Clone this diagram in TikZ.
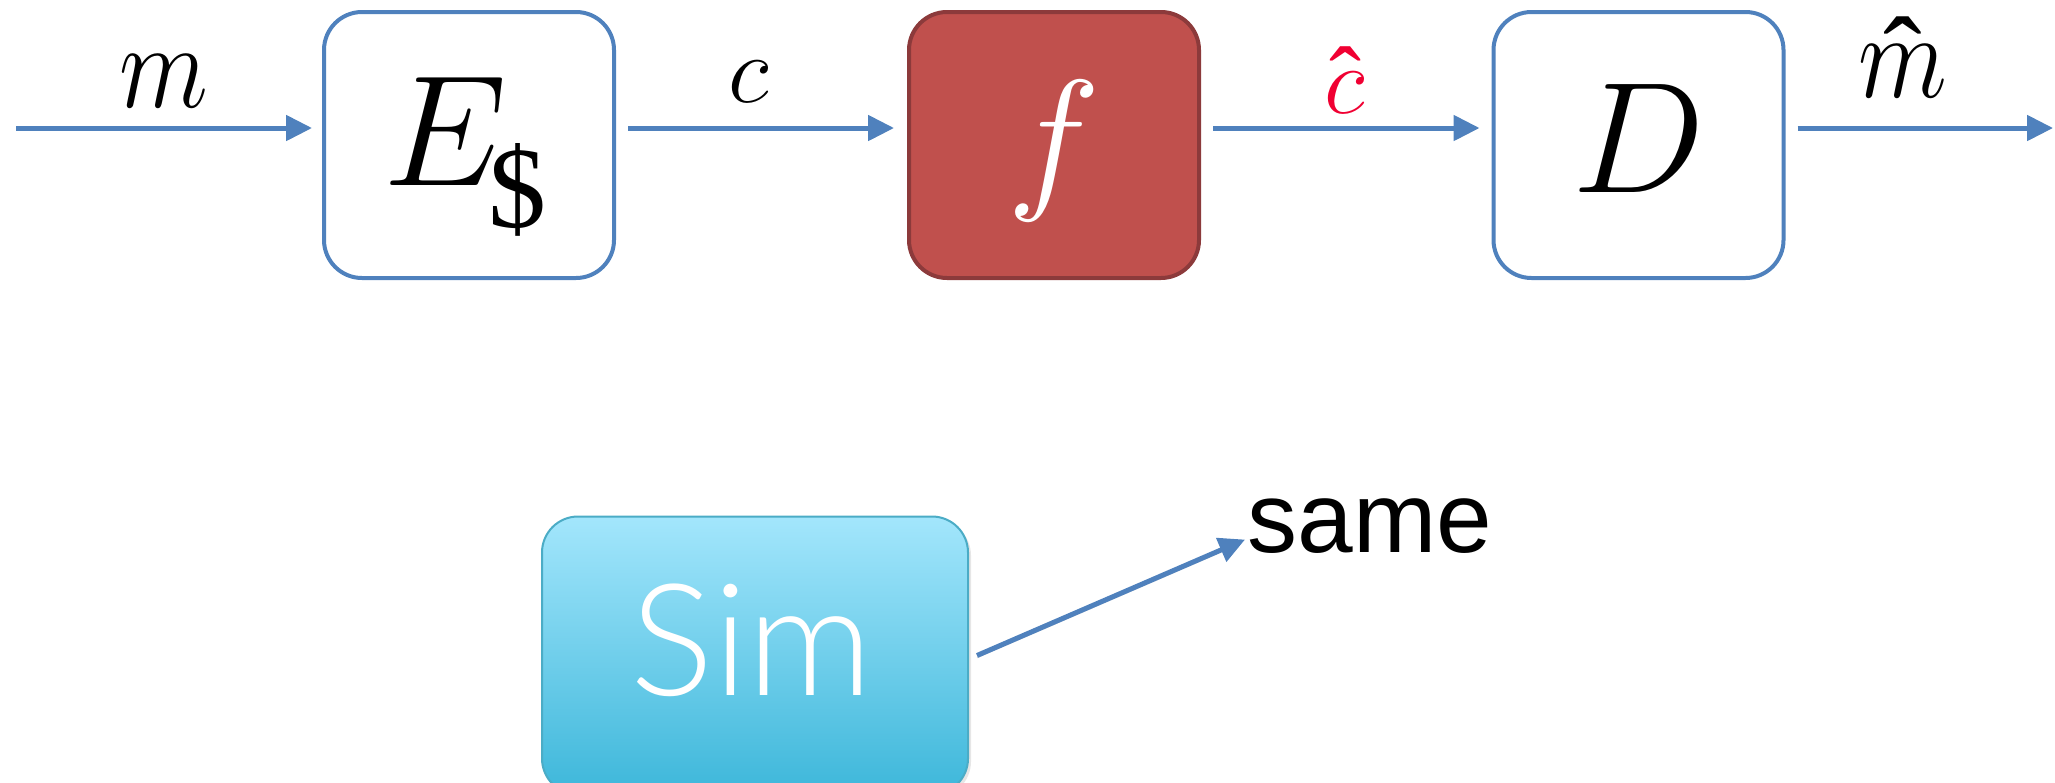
\RequirePackage{fix-cm}
\documentclass[tikz,border=0pt]{standalone}
\usepackage{fontspec}
\newfontfamily\samefont{Liberation Sans}
\newfontfamily\hatfont{Liberation Serif}
\newfontfamily\simfont{Lato Light}
\usetikzlibrary{arrows.meta,shadows}
\definecolor{ablue}{HTML}{4F81BD}
\definecolor{rfill}{HTML}{C0504D}
\definecolor{rdraw}{HTML}{8C3A3B}
\definecolor{hatred}{RGB}{240,0,50}
\definecolor{simtop}{HTML}{A3E6FC}
\definecolor{simbot}{HTML}{3DB7DA}
\definecolor{simdraw}{HTML}{4BACC6}
\newcommand\fsz[1]{\fontsize{#1}{#1}\selectfont}
% #1 base symbol, #2 raise of hat, #3 hat size
\newcommand\hatted[3]{{\ooalign{#1\cr\hidewidth\raisebox{#2}{\fsz{#3}\hatfont ˆ}\hidewidth\cr}}}
\begin{document}
\begin{tikzpicture}[x=0.5pt,y=-0.5pt,
  blockbox/.style={draw=ablue, line width=2pt, rounded corners=19pt, minimum width=145pt, minimum height=133pt, inner sep=0pt, fill=white},
  redbox/.style={blockbox, draw=rdraw, fill=rfill},
  simbox/.style={draw=simdraw, line width=1pt, rounded corners=18pt, minimum width=213pt, minimum height=139pt, top color=simtop, bottom color=simbot, inner sep=0pt, drop shadow={opacity=0.2, shadow xshift=1.5pt, shadow yshift=-1.5pt}},
  arr/.style={draw=ablue, line width=2.5pt, -{Triangle[length=13pt,width=12.5pt]},
    preaction={draw=black, opacity=0.12, transform canvas={yshift=-1.2pt}}},
  lbl/.style={inner sep=0pt, anchor=base},
  bigmath/.style={lbl, font=\fsz{79pt}},
  edgelbl/.style={lbl, font=\fsz{61pt}},
  clbl/.style={lbl, font=\fsz{48pt}},
]
\useasboundingbox (0,0) rectangle (2055,782);
\clip (0,0) rectangle (2055,782);

% blocks
\node[blockbox] (E) at (469,145) {};
\node[redbox]   (F) at (1054,145) {};
\node[blockbox] (D) at (1638.5,145) {};
\node[simbox]   (Sim) at (755,655.5) {};

% block texts
\node[bigmath] (Et) at ([xshift=-2pt,yshift=-20pt]E.center) {$E$\kern-9pt\raisebox{-21pt}{\fsz{58pt}\hatfont\$}};
\node[bigmath, text=white] (Ft) at ([yshift=-22.5pt]F.center) {$f$};
\node[bigmath] (Dt) at ([yshift=-23.5pt]D.center) {$D$};
\node[lbl, font=\fsz{78pt}\simfont, text=white] (St) at ([xshift=-1.5pt,yshift=-20pt]Sim.center) {Sim};
\node[lbl, anchor=base west, font=\fsz{50pt}\samefont] (same) at (1247,552) {same};

% connectors
\coordinate (in) at (16,128);
\coordinate (out) at (2053,128);
\draw[arr] (in) -- ([yshift=8.5pt,xshift=-5pt]E.west);
\draw[arr] ([yshift=8.5pt,xshift=6pt]E.east) -- ([yshift=8.5pt,xshift=-6.5pt]F.west);
\draw[arr] ([yshift=8.5pt,xshift=6pt]F.east) -- ([yshift=8.5pt,xshift=-6pt]D.west);
\draw[arr] ([yshift=8.5pt,xshift=6pt]D.east) -- (out);
\draw[arr] ([xshift=4pt]Sim.east) -- ([xshift=-1pt,yshift=-7pt]same.west);

% edge labels
\node[edgelbl] (m) at (164,107) {\scalebox{0.85}[1]{$m$}};
\node[clbl] (c) at (749,102) {$c$};
\node[clbl, text=hatred] (ch) at (1345,113) {\hatted{$c$}{0pt}{48pt}};
\node[edgelbl] (mh) at (1903,97) {\hatted{\scalebox{0.85}[1]{$m$}}{0pt}{58pt}};
\end{tikzpicture}
\end{document}
